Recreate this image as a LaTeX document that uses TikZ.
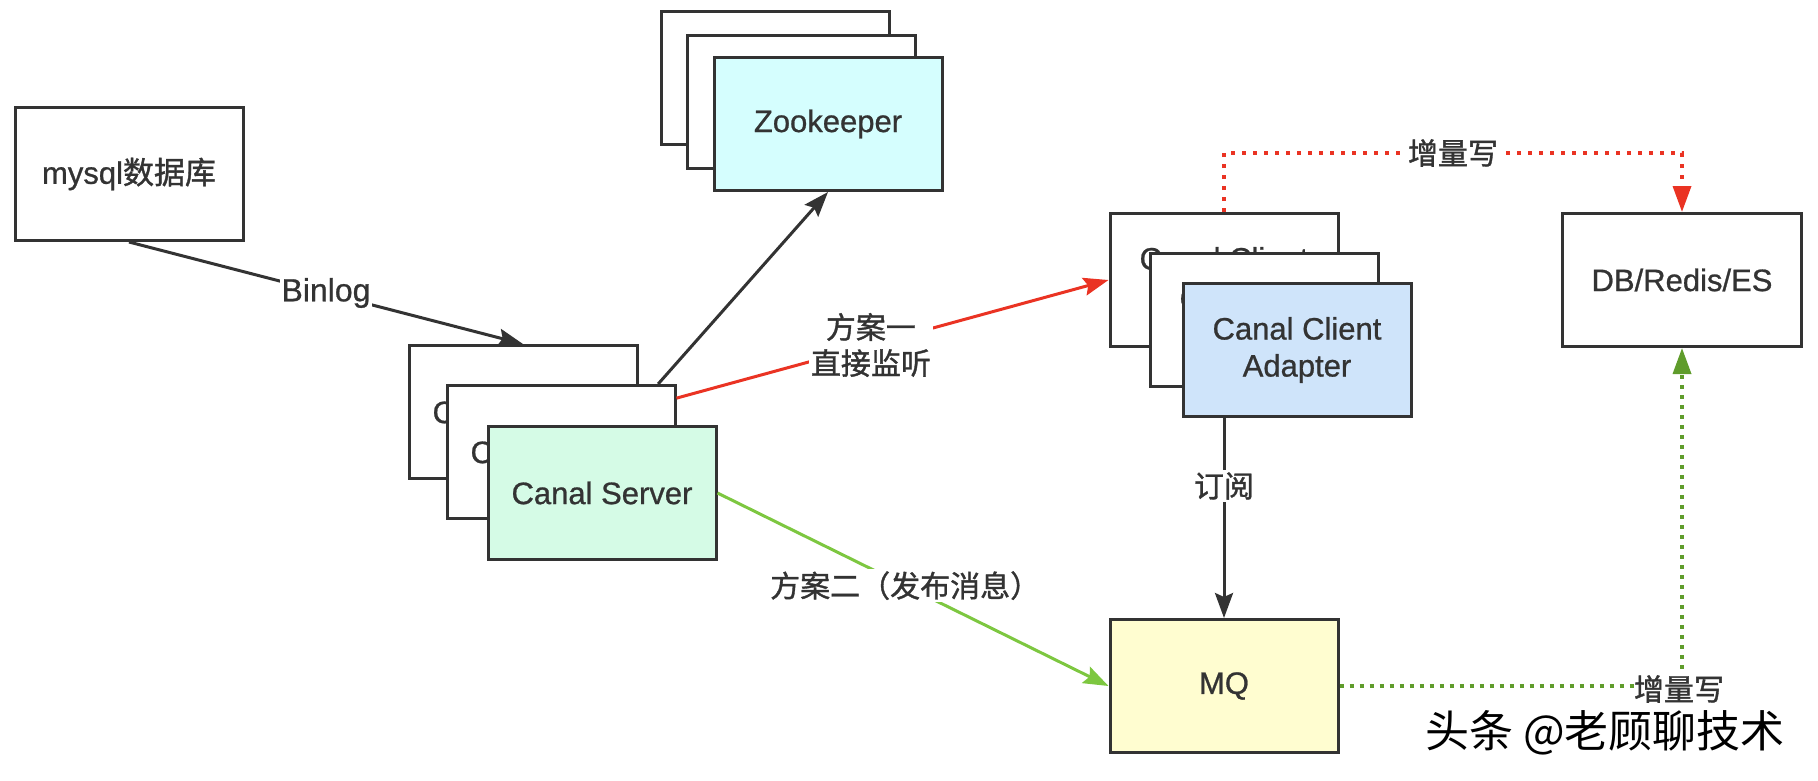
\documentclass[tikz,border=0pt]{standalone}
\usepackage{fontspec}
\setmainfont{Liberation Sans}[RawFeature={embolden=0.8}]
\newfontfamily\cjk{Noto Sans CJK SC}[RawFeature={embolden=1.2}]
\newfontfamily\cjkmark{Noto Sans CJK SC}
\usetikzlibrary{arrows.meta}
\definecolor{ink}{HTML}{333333}
\definecolor{planred}{HTML}{EA3323}
\definecolor{plangreen}{HTML}{7DC740}
\definecolor{writegreen}{HTML}{5F9C2B}
\definecolor{zkfill}{HTML}{D5FEFE}
\definecolor{csfill}{HTML}{D5FBE6}
\definecolor{ccfill}{HTML}{CFE4FA}
\definecolor{mqfill}{HTML}{FFFDD0}
\begin{document}
\begin{tikzpicture}[x=1pt,y=-1pt,
    box/.style={draw=ink,fill=white,line width=3pt,minimum width=228pt,minimum height=133pt,
      inner sep=0pt,align=center,text=ink,font=\fontsize{31}{37}\selectfont},
    lbl/.style={fill=white,inner sep=2pt,text=ink,align=center,font=\fontsize{30}{36}\selectfont\cjk},
    link/.style={line width=3pt,-{Stealth[length=25pt,width=18pt,inset=4pt]}},
    sync/.style={line width=3.5pt,dash pattern=on 4pt off 7pt,-{Triangle[length=26pt,width=18pt]}}]
  \useasboundingbox (0,0) rectangle (1818,780);
  \draw
    (129,174) node[box] (mysql) {mysql{\cjk 数据库}}
    (775,78) node[box] (zkback) {Zookeeper}
    (801,102) node[box] (zkmid) {Zookeeper}
    (828,124) node[box,fill=zkfill] (zkfront) {Zookeeper}
    (523,412) node[box] (csback) {Canal Server}
    (561,452) node[box] (csmid) {Canal Server}
    (602,493) node[box,fill=csfill] (csfront) {Canal Server}
    (1224,280) node[box] (ccback) {Canal Client\\Adapter}
    (1264,320) node[box] (ccmid) {Canal Client\\Adapter}
    (1297,350) node[box,fill=ccfill] (ccfront) {Canal Client\\Adapter}
    (1682,280) node[box,minimum width=239pt] (db) {DB/Redis/ES}
    (1224,686) node[box,fill=mqfill] (mq) {MQ};
  \begin{scope}[link]
    \draw[ink] (mysql.south) -- node[lbl,font=\fontsize{32}{36}\selectfont] (binlog) {Binlog} (csback.north);
    \draw[ink] (csmid.35) -- (zkfront.south);
    \draw[planred] (csmid.25) -- node[lbl,pos=0.45] (plana) {方案一\\直接监听} (ccback.west);
    \draw[plangreen] (csfront.east) -- node[lbl,pos=0.48] (planb) {方案二（发布消息）} (mq.west);
    \draw[ink] (ccfront.south -| mq.north) -- node[lbl,pos=0.34] (sub) {订阅} (mq.north);
  \end{scope}
  \begin{scope}[sync]
    \draw[planred] (ccback.north) -- ++(0,-59) -| node[lbl,pos=0.25] (writea) {增量写} (db.north);
    \draw[writegreen,dash pattern=on 4pt off 6pt] (mq.east) -| node[lbl,pos=0.5,xshift=-3pt,yshift=-3pt,inner sep=0pt] (writeb) {增量写} (db.south);
  \end{scope}
  \node[text=black,font=\fontsize{44}{50}\selectfont\cjkmark] (wmark) at (1605,733) {头条 @老顾聊技术};
\end{tikzpicture}
\end{document}
